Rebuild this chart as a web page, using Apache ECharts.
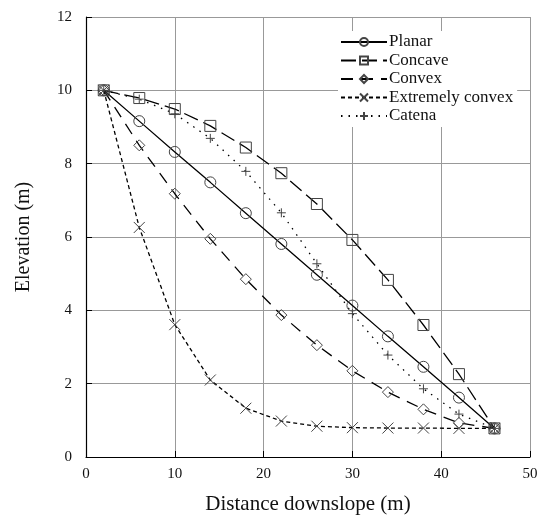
<!DOCTYPE html>
<html>
<head>
<meta charset="utf-8">
<script src="https://cdn.jsdelivr.net/npm/echarts@6/dist/echarts.min.js"></script>
<style>
  html, body { margin: 0; padding: 0; background: #fff; }
  #chart { width: 544px; height: 520px; }
</style>
</head>
<body>
<div id="chart"></div>
<script>
// distance downslope (m) of each sampled point
const distance = [2, 6, 10, 14, 18, 22, 26, 30, 34, 38, 42, 46];

// elevation (m) per profile shape
const planar = [10, 9.16, 8.32, 7.49, 6.65, 5.81, 4.97, 4.13, 3.29, 2.46, 1.62, 0.78];
const concave = [10, 9.79, 9.49, 9.03, 8.44, 7.74, 6.9, 5.92, 4.83, 3.6, 2.26, 0.78];
const convex = [10, 8.5, 7.18, 5.95, 4.85, 3.87, 3.05, 2.35, 1.77, 1.3, 0.93, 0.78];
const extremelyConvex = [10, 6.26, 3.61, 2.1, 1.33, 0.98, 0.84, 0.8, 0.79, 0.79, 0.78, 0.78];
const catena = [10, 9.76, 9.36, 8.69, 7.79, 6.66, 5.27, 3.91, 2.78, 1.86, 1.17, 0.78];

const xTicks = [0, 10, 20, 30, 40, 50];
const yTicks = [0, 2, 4, 6, 8, 10, 12];

const FONT = '"Liberation Serif", "DejaVu Serif", serif';
const MARK = '#444';

const pts = (ys) => distance.map((x, i) => [x, ys[i]]);

const mkSeries = (name, ys, symbol, size, dash) => ({
  name,
  type: 'line',
  data: pts(ys),
  symbol,
  symbolSize: size,
  showSymbol: true,
  lineStyle: { color: '#000', width: 1.3, type: dash },
  itemStyle: { color: 'transparent', borderColor: MARK, borderWidth: 1 },
  emphasis: { disabled: true },
  animation: false,
});

const chart = echarts.init(document.getElementById('chart'), null, { renderer: 'canvas' });

chart.setOption({
  backgroundColor: '#fff',
  textStyle: { fontFamily: FONT },
  grid: { left: 86, right: 14, top: 17, bottom: 61 },
  legend: {
    orient: 'vertical',
    left: 338,
    top: 31,
    itemWidth: 46,
    itemHeight: 10,
    itemGap: 0.5,
    backgroundColor: '#fff',
    padding: [2, 4, 2, 2],
    textStyle: { fontFamily: FONT, fontSize: 17, lineHeight: 18, color: '#111', padding: [0, 0, 0, -3] },
    data: ['Planar', 'Concave', 'Convex', 'Extremely convex', 'Catena'],
  },
  xAxis: {
    type: 'value',
    min: 0,
    max: 50,
    interval: 10,
    name: 'Distance downslope (m)',
    nameLocation: 'middle',
    nameGap: 37,
    nameTextStyle: { fontFamily: FONT, fontSize: 21, color: '#111' },
    axisLine: { lineStyle: { color: '#000', width: 1.2 } },
    axisTick: { inside: true, length: 6, lineStyle: { color: '#000' } },
    axisLabel: {
      fontFamily: FONT, fontSize: 15, color: '#111', margin: 10,
      formatter: (v) => (xTicks.includes(v) ? String(v) : ''),
    },
    splitLine: { show: true, lineStyle: { color: '#999', width: 1 } },
  },
  yAxis: {
    type: 'value',
    min: 0,
    max: 12,
    interval: 2,
    name: 'Elevation (m)',
    nameLocation: 'middle',
    nameRotate: 90,
    nameGap: 52,
    nameTextStyle: { fontFamily: FONT, fontSize: 20, color: '#111' },
    axisLine: { show: true, lineStyle: { color: '#000', width: 1.2 } },
    axisTick: { show: true, inside: true, length: 6, lineStyle: { color: '#000' } },
    axisLabel: {
      fontFamily: FONT, fontSize: 15, color: '#111', margin: 14,
      formatter: (v) => (yTicks.includes(v) ? String(v) : ''),
    },
    splitLine: { show: true, lineStyle: { color: '#999', width: 1 } },
  },
  series: [
    mkSeries('Planar', planar, 'circle', 11, 'solid'),
    mkSeries('Concave', concave, 'rect', 11, [15, 6]),
    mkSeries('Convex', convex, 'diamond', 11, [12, 8]),
    mkSeries('Extremely convex', extremelyConvex, 'path://M0,0L10,10M10,0L0,10', 11, [4, 3]),
    mkSeries('Catena', catena, 'path://M5,0L5,10M0,5L10,5', 9, [1.5, 6]),
  ],
});
</script>
</body>
</html>
